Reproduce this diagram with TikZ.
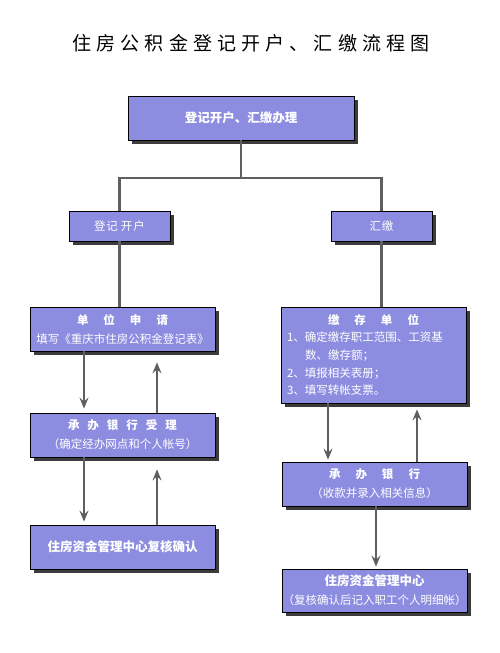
\documentclass[tikz,border=0pt]{standalone}
\usepackage{fontspec}
\setmainfont{Noto Sans CJK SC}
\newfontfamily\titlefont{Noto Sans CJK SC}[LetterSpace=27]
\usetikzlibrary{arrows.meta,shadows}
\definecolor{boxfill}{RGB}{140,140,225}
\definecolor{linegray}{RGB}{95,95,95}
\definecolor{shadowgray}{RGB}{60,60,60}
\newcommand\gapA{\hspace{15pt}}
\newcommand\gapB{\hspace{8pt}}
\begin{document}
\begin{tikzpicture}[x=1pt,y=-1pt,
  box/.style={draw=black, line width=0.8pt, fill=boxfill, text=white, inner sep=0pt,
    drop shadow={shadow xshift=3.5pt, shadow yshift=-3.5pt, fill=shadowgray, opacity=1},
    font=\fontsize{11.5}{19}\selectfont, align=center},
  conn/.style={draw=linegray, line width=2.2pt},
  arr/.style={conn, -{Stealth[length=11pt,width=9pt,inset=4pt]}}]
\useasboundingbox (0,0) rectangle (500,653);
\node[font=\titlefont\fontsize{19}{19}\selectfont] (title) at (251,43) {住房公积金登记开户、汇缴流程图};

\node[box, minimum width=226pt, minimum height=44pt] (top) at (241,118) {\bfseries\fontsize{12.5}{19}\selectfont 登记开户、汇缴办理};
\node[box, minimum width=101pt, minimum height=30pt] (dj) at (119.5,226) {登\hspace{1pt}记\hspace{3pt}开\hspace{1pt}户};
\node[box, minimum width=101pt, minimum height=30pt] (hj) at (381.5,226) {汇\hspace{1pt}缴};

\node[box, minimum width=185pt, minimum height=44pt] (dwsq) at (122.5,329) {{\bfseries 单\gapA 位\gapA 申\gapA 请}\\填写《重庆市住房公积金登记表》};
\node[box, minimum width=185pt, minimum height=44pt] (cb1) at (122.5,435) {{\bfseries 承\gapB 办\gapB 银\gapB 行\gapB 受\gapB 理}\\（确定经办网点和个人帐号）};
\node[box, minimum width=185pt, minimum height=44pt] (zf1) at (122.5,547) {\bfseries\fontsize{12.5}{19}\selectfont 住房资金管理中心复核确认};

\node[box, minimum width=185pt, minimum height=96pt, font=\fontsize{11.5}{17.6}\selectfont, align=left, text width=173pt] (jcdw) at (373.5,355) {\hfill{\bfseries 缴\gapA 存\gapA 单\gapA 位}\hfill\null\\1、确定缴存职工范围、工资基\\\hspace*{18pt}数、缴存额；\\2、填报相关表册；\\3、填写转帐支票。};
\node[box, minimum width=185pt, minimum height=44pt] (cb2) at (374.5,484) {{\bfseries 承\gapA 办\gapA 银\gapA 行}\\（收款并录入相关信息）};
\node[box, minimum width=185pt, minimum height=43pt] (zf2) at (374.5,590.5) {{\bfseries\fontsize{12.5}{19}\selectfont 住房资金管理中心}\\（复核确认后记入职工个人明细帐）};

\coordinate (j) at (241,178);
\coordinate (xa) at (84,0);
\coordinate (xb) at (157,0);
\coordinate (xc) at (328,0);
\coordinate (xd) at (417,0);
\coordinate (xe) at (376,0);

\draw[conn] (top.south) -- (j);
\draw[conn] (dj.north) |- (j) -| (hj.north);
\draw[conn] (dj.south) -- (dj.south |- dwsq.north);
\draw[conn] (hj.south) -- (hj.south |- jcdw.north);

\draw[arr, shorten >=4pt] (dwsq.south -| xa) -- (cb1.north -| xa);
\draw[arr, shorten >=11pt] (cb1.north -| xb) -- (dwsq.south -| xb);
\draw[arr, shorten >=3pt] (cb1.south -| xa) -- (zf1.north -| xa);
\draw[arr, shorten >=12pt] (zf1.north -| xb) -- (cb1.south -| xb);

\draw[arr, shorten >=2pt] (jcdw.south -| xc) -- (cb2.north -| xc);
\draw[arr, shorten >=6pt] (cb2.north -| xd) -- (jcdw.south -| xd);
\draw[arr, shorten >=2pt] (cb2.south -| xe) -- (zf2.north -| xe);
\end{tikzpicture}
\end{document}
